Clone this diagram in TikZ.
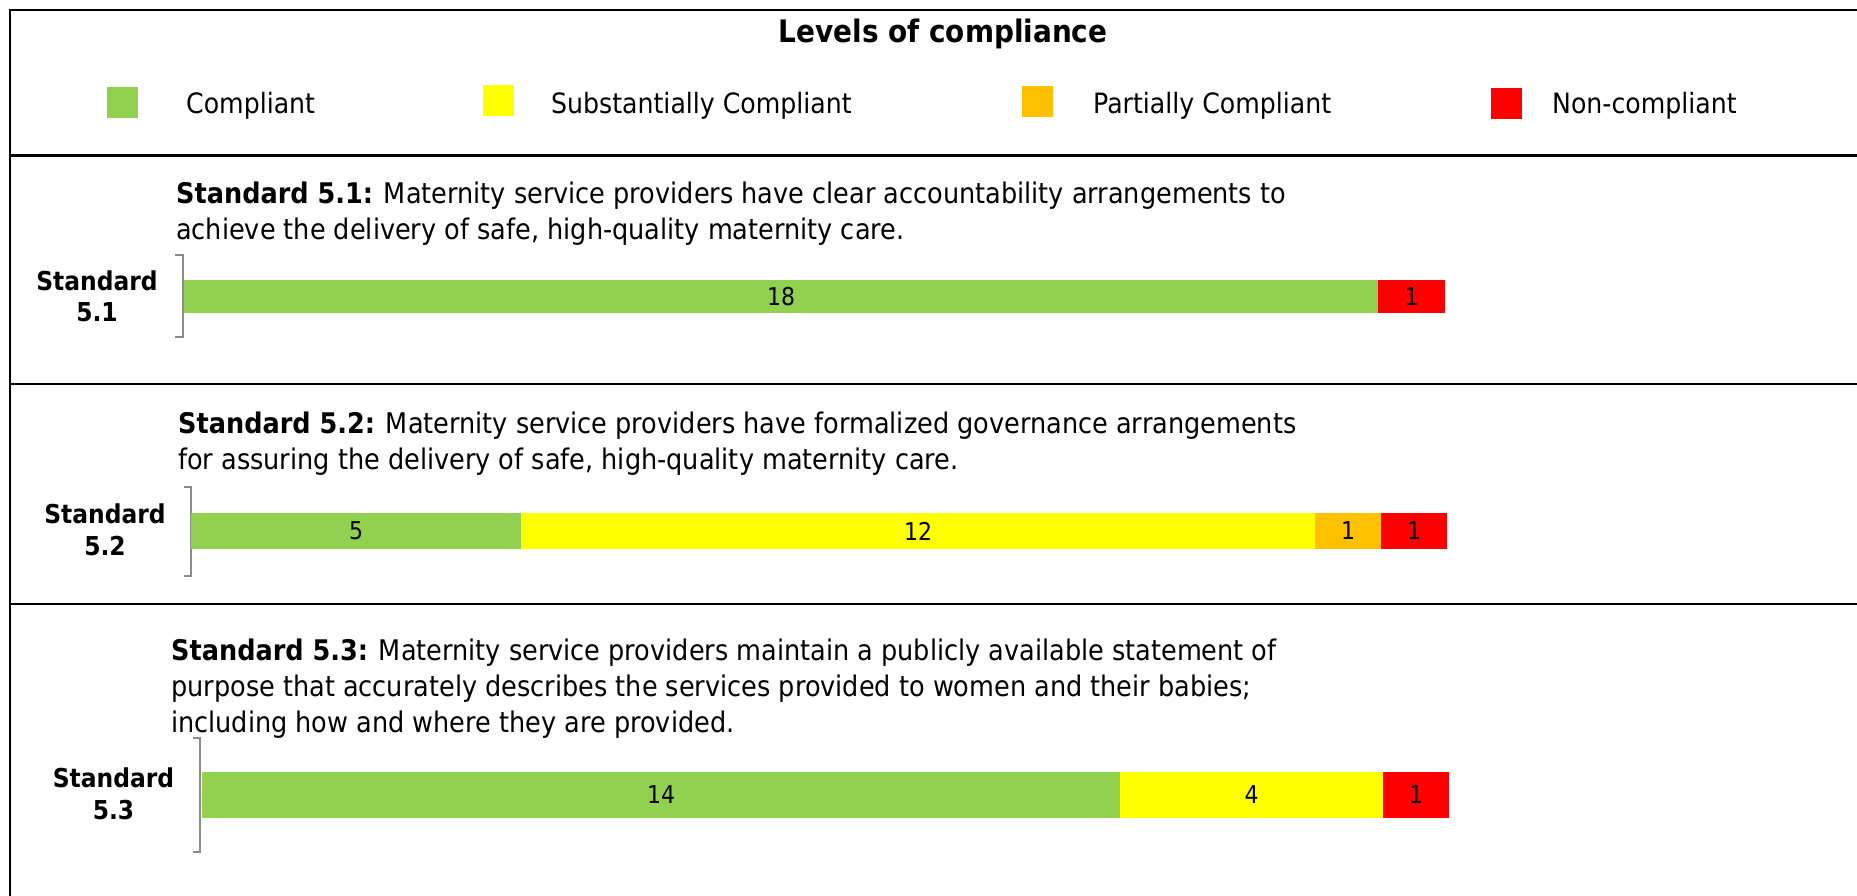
\documentclass[tikz,border=0pt]{standalone}
\usepackage{fontspec}
\setmainfont{DejaVu Sans}[FakeStretch=0.9]
\definecolor{compgreen}{RGB}{146,208,80}
\definecolor{subyellow}{RGB}{255,255,0}
\definecolor{partorange}{RGB}{255,192,0}
\definecolor{noncred}{RGB}{255,0,0}
\definecolor{bracegray}{RGB}{140,140,140}

\begin{document}
\begin{tikzpicture}[x=1pt,y=-1pt,
  key/.style={minimum size=31pt,inner sep=0pt},
  keytext/.style={anchor=base west,inner sep=0pt,font=\fontsize{28}{28}\selectfont},
  stdtext/.style={anchor=base west,inner sep=0pt,align=left,font=\fontsize{28.4}{36}\selectfont},
  stdlabel/.style={anchor=base,inner sep=0pt,align=center,font=\bfseries\fontsize{26}{31.7}\selectfont},
  seg/.style={anchor=west,inner sep=0pt,font=\fontsize{24.5}{24.5}\selectfont}]
\useasboundingbox (0,0) rectangle (1857,896);
% frame
\draw[line width=2.2pt] (1857,10) -- (10,10) -- (10,896);
\draw[line width=2.2pt] (10,155.5) -- (1857,155.5);
\draw[line width=2.2pt] (10,383.7) -- (1857,383.7);
\draw[line width=2.2pt] (10,604) -- (1857,604);
% legend
\node[anchor=base,inner sep=0pt,font=\bfseries\fontsize{31}{31}\selectfont] (title) at (943,42.7) {Levels of compliance};
\node[key,fill=compgreen] (kg) at (122.5,102.5) {};
\node[keytext] (kgt) at (186,113.5) {Compliant};
\node[key,fill=subyellow] (ky) at (498.5,100.5) {};
\node[keytext] (kyt) at (551,113.5) {Substantially Compliant};
\node[key,fill=partorange] (ko) at (1037.5,101.5) {};
\node[keytext] (kot) at (1093,113.5) {Partially Compliant};
\node[key,fill=noncred] (kr) at (1506.5,103.5) {};
\node[keytext] (krt) at (1552,113.5) {Non-compliant};
% standard 5.1 (base = last line)
\node[stdtext] (t51) at (176,239.3) {\textbf{Standard 5.1:} Maternity service providers have clear accountability arrangements to\\achieve the delivery of safe, high-quality maternity care.};
\node[stdlabel] (l51) at (97,321.7) {Standard\\5.1};
\draw[bracegray,line width=1.3pt] (175,255) -- (183,255) -- (183,337) -- (175,337);
\node[seg,fill=compgreen,minimum width=1194pt,minimum height=33pt] (g51) at (184,296.5) {18};
\node[seg,fill=noncred,minimum width=67pt,minimum height=33pt] (r51) at (1378,296.5) {1};
% standard 5.2
\node[stdtext] (t52) at (178,469.3) {\textbf{Standard 5.2:} Maternity service providers have formalized governance arrangements\\for assuring the delivery of safe, high-quality maternity care.};
\node[stdlabel] (l52) at (105,555) {Standard\\5.2};
\draw[bracegray,line width=1.3pt] (184,487) -- (191,487) -- (191,576) -- (184,576);
\node[seg,fill=compgreen,minimum width=330pt,minimum height=36pt] (g52) at (191,531) {5};
\node[seg,fill=subyellow,minimum width=794pt,minimum height=36pt] (y52) at (521,531) {12};
\node[seg,fill=partorange,minimum width=66pt,minimum height=36pt] (o52) at (1315,531) {1};
\node[seg,fill=noncred,minimum width=66pt,minimum height=36pt] (r52) at (1381,531) {1};
% standard 5.3
\node[stdtext] (t53) at (171,732.7) {\textbf{Standard 5.3:} Maternity service providers maintain a publicly available statement of\\purpose that accurately describes the services provided to women and their babies;\\including how and where they are provided.};
\node[stdlabel] (l53) at (113.5,819.3) {Standard\\5.3};
\draw[bracegray,line width=1.3pt] (193,738) -- (200,738) -- (200,852) -- (193,852);
\node[seg,fill=compgreen,minimum width=918pt,minimum height=46pt] (g53) at (202,795) {14};
\node[seg,fill=subyellow,minimum width=263pt,minimum height=46pt] (y53) at (1120,795) {4};
\node[seg,fill=noncred,minimum width=66pt,minimum height=46pt] (r53) at (1383,795) {1};
\end{tikzpicture}
\end{document}
